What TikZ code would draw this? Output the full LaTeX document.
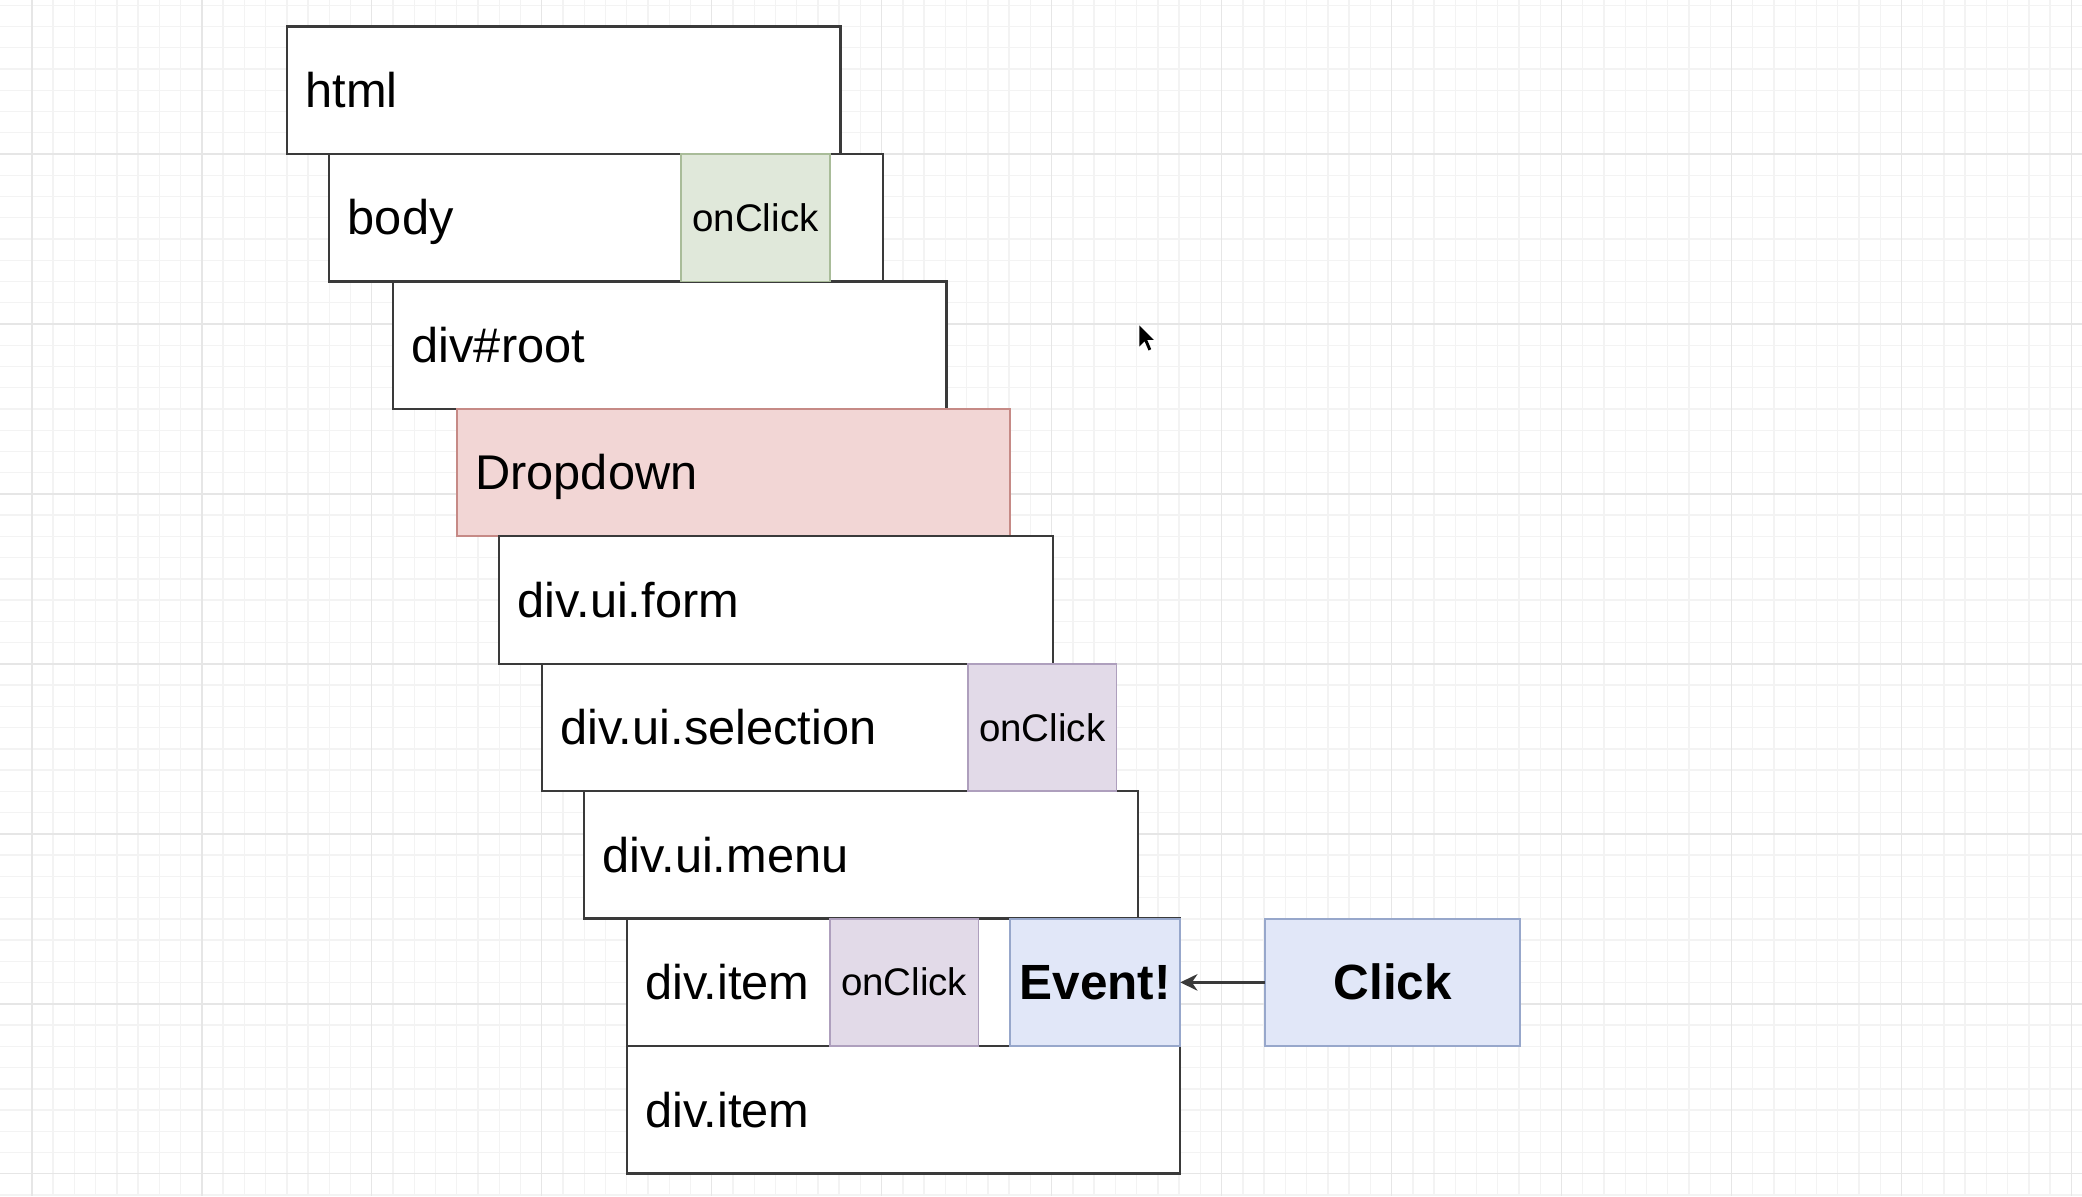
\documentclass[tikz,border=0pt]{standalone}
\usepackage{fontspec}
\setmainfont{Liberation Sans}
\usetikzlibrary{arrows.meta, positioning}
\definecolor{edge}{HTML}{3A3A3A}
\definecolor{gridminor}{HTML}{F3F3F3}
\definecolor{gridmajor}{HTML}{E6E6E6}
\definecolor{greenbg}{HTML}{E0E8DA}
\definecolor{greenline}{HTML}{A9BC99}
\definecolor{purplebg}{HTML}{E2DAE8}
\definecolor{purpleline}{HTML}{AE9FBD}
\definecolor{redbg}{HTML}{F2D6D5}
\definecolor{redline}{HTML}{C68A86}
\definecolor{bluebg}{HTML}{E1E7F8}
\definecolor{blueline}{HTML}{97A7CB}
\newcommand\boxfont{\fontsize{20.9}{24}\selectfont}
\newcommand\hookfont{\fontsize{16.5}{19}\selectfont}

\begin{document}
\begin{tikzpicture}[
    x=0.02cm, y=-0.02cm,
    elem/.style={draw=edge, fill=white, line width=1pt, outer sep=0pt, inner xsep=0.28cm, inner ysep=0pt, minimum height=1.92cm, text width=7.78cm, text height=0.52cm, text depth=0pt, align=left, font=\boxfont},
    hook/.style={line width=0.8pt, outer sep=0pt, inner sep=0pt, minimum height=1.92cm, minimum width=2.24cm, text height=0.41cm, text depth=0pt, font=\hookfont},
    greenhook/.style={hook, draw=greenline, fill=greenbg},
    purplehook/.style={hook, draw=purpleline, fill=purplebg},
    evt/.style={draw=blueline, fill=bluebg, line width=0.8pt, outer sep=0pt, inner sep=0pt, minimum height=1.92cm, text height=0.52cm, text depth=0pt, font=\fontsize{21.2}{24}\selectfont\bfseries},
    ar/.style={-{Stealth[length=2.6mm, width=2.5mm]}, edge, line width=1pt}
  ]
    \fill[white] (0,0) rectangle (1568,901);
    \useasboundingbox (0,0) rectangle (1568,901);
    \foreach \gx in {24,40,...,1560} \draw[gridminor, line width=0.6pt] (\gx,0) -- (\gx,901);
    \foreach \gy in {4,20,...,900} \draw[gridminor, line width=0.6pt] (0,\gy) -- (1568,\gy);
    \foreach \gx in {24,152,...,1560} \draw[gridmajor, line width=0.6pt] (\gx,0) -- (\gx,901);
    \foreach \gy in {116,244,...,900} \draw[gridmajor, line width=0.6pt] (0,\gy) -- (1568,\gy);

    \node[elem, anchor=north west] (html) at (216,20) {html};
    \node[elem, below right=0pt and 0.64cm of html.south west] (body) {body};
    \node[elem, below right=0pt and 0.96cm of body.south west] (root) {div\#root};
    \node[elem, draw=redline, fill=redbg, below right=0pt and 0.96cm of root.south west] (dropdown) {Dropdown};
    \node[elem, below right=0pt and 0.64cm of dropdown.south west] (form) {div.ui.form};
    \node[elem, below right=0pt and 0.64cm of form.south west] (selection) {div.ui.selection};
    \node[elem, below right=0pt and 0.64cm of selection.south west] (menu) {div.ui.menu};
    \node[elem, below right=0pt and 0.64cm of menu.south west] (item) {div.item};
    \node[elem, below=0pt of item] (itemb) {div.item};

    \node[greenhook, left=0.8cm of body.east] (bodyclick) {onClick};
    \node[purplehook, anchor=east] (selclick) at ([xshift=0.32cm]selection.east) {onClick};
    \node[purplehook, right=3.06cm of item.west] (itemclick) {onClick};
    \node[evt, minimum width=2.56cm, left=0pt of item.east] (event) {Event!};
    \node[evt, minimum width=3.84cm, right=1.28cm of event] (click) {Click};
    \draw[ar] (click) -- (event);

    \fill[black] (858,245) -- (858,261) -- (862,257) -- (865,264) -- (867,263) -- (864,256) -- (869,256) -- cycle;
  \end{tikzpicture}
\end{document}
